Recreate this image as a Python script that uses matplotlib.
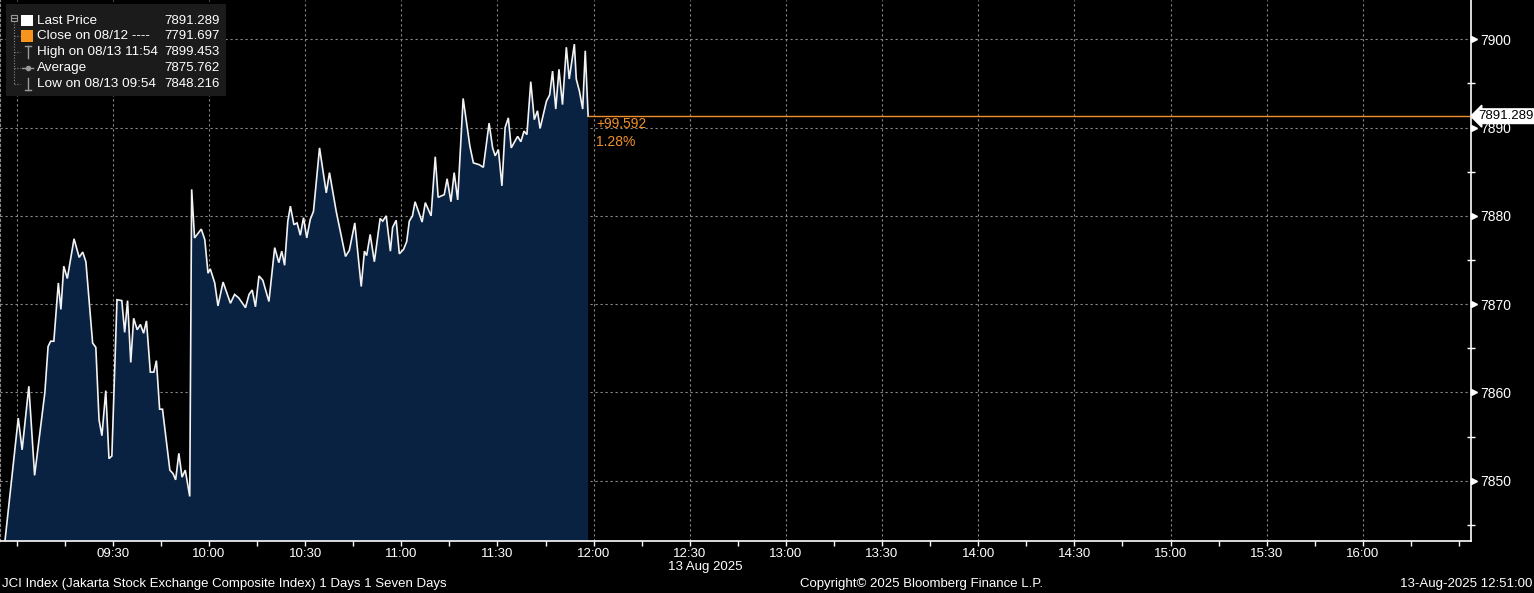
import matplotlib
matplotlib.use("Agg")
import matplotlib.pyplot as plt
import matplotlib.transforms as mtransforms
from matplotlib.patches import Rectangle
from matplotlib.lines import Line2D
import numpy as np

# ---------------- data ----------------
prev_close = 7791.697
prev_close_time = -19.0           # minutes relative to 09:00 (prior print, off chart)
# minutes after 09:00
times = [0.5, 1.7, 3.8, 5.6, 8.8, 9.8, 10.6, 11.6, 13.0, 13.8, 14.7, 15.8, 17.9, 19.5,
         20.6, 21.6, 23.7, 24.7, 25.7, 26.6, 27.8, 28.8, 29.7, 31.3, 32.8, 33.7, 34.6,
         35.6, 36.5, 37.6, 38.6, 39.6, 40.5, 41.7, 42.8, 43.6, 44.6, 45.5, 47.8, 48.8,
         49.6, 50.6, 51.6, 52.6, 54.0, 54.6, 55.5, 57.6, 58.7, 59.7, 60.4, 61.8, 62.8,
         64.4, 66.7, 68.0, 69.3, 71.4, 72.5, 73.5, 74.5, 75.6, 76.8, 78.7, 80.5, 81.8,
         82.7, 83.6, 84.6, 85.4, 86.5, 87.5, 88.5, 89.5, 90.5, 91.6, 92.6, 94.5, 96.6,
         97.6, 99.7, 102.6, 103.8, 105.5, 107.5, 108.5, 109.2, 110.3, 111.6, 113.4,
         114.2, 115.3, 116.6, 117.3, 118.4, 119.4, 120.7, 121.7, 122.5, 123.5, 124.3,
         126.5, 127.5, 129.3, 130.6, 131.5, 133.4, 134.3, 135.5, 136.5, 137.6, 139.3,
         141.4, 142.5, 144.3, 145.6, 147.4, 148.5, 149.3, 150.3, 151.4, 152.4, 153.4,
         154.3, 156.3, 157.3, 158.3, 159.2, 160.4, 161.5, 162.5, 163.3, 165.3, 166.3,
         167.2, 168.2, 169.2, 170.3, 171.5, 172.4, 174.0, 174.6, 175.6, 176.6, 177.4,
         178.3]
prices = [7857.1, 7853.5, 7860.7, 7850.6, 7860.0, 7865.2, 7865.8, 7865.8, 7872.4, 7869.4,
          7874.3, 7872.9, 7877.4, 7875.3, 7875.9, 7874.8, 7865.6, 7865.1, 7856.9, 7855.1,
          7860.2, 7852.5, 7852.8, 7870.5, 7870.4, 7866.8, 7870.4, 7863.4, 7868.4, 7867.1,
          7867.7, 7866.7, 7868.1, 7862.3, 7862.3, 7863.6, 7858.1, 7858.1, 7851.2, 7850.8,
          7850.1, 7853.1, 7850.4, 7851.2, 7848.216, 7883.0, 7877.5, 7878.5, 7877.3, 7873.5,
          7874.0, 7872.4, 7869.8, 7872.5, 7870.1, 7871.1, 7870.7, 7869.6, 7871.1, 7871.6,
          7869.7, 7873.2, 7872.7, 7870.3, 7876.4, 7874.7, 7876.0, 7874.4, 7879.4, 7881.1,
          7879.0, 7879.2, 7877.8, 7879.8, 7877.5, 7879.6, 7880.5, 7887.7, 7882.6, 7884.9,
          7880.5, 7875.4, 7876.1, 7879.2, 7872.0, 7876.0, 7875.5, 7877.9, 7874.8, 7879.7,
          7879.4, 7880.0, 7876.0, 7878.7, 7879.5, 7875.7, 7876.2, 7877.1, 7879.4, 7880.0,
          7881.6, 7879.3, 7881.5, 7880.0, 7886.7, 7882.1, 7882.4, 7884.2, 7881.6, 7884.9,
          7881.8, 7893.3, 7887.9, 7886.0, 7885.8, 7885.5, 7890.5, 7887.7, 7886.8, 7887.5,
          7883.4, 7890.0, 7891.1, 7887.7, 7889.0, 7888.4, 7889.6, 7889.2, 7895.2, 7890.9,
          7891.9, 7889.9, 7893.0, 7893.7, 7896.4, 7892.1, 7896.6, 7892.6, 7899.1, 7895.5,
          7899.453, 7895.5, 7894.1, 7892.1, 7898.7, 7891.289]

last_price = 7891.289
legend_labels = ["Last Price", "Close on 08/12 ---- ", "High on 08/13 11:54",
                 "Average", "Low on 08/13 09:54"]
legend_values = ["7891.289", "7791.697", "7899.453", "7875.762", "7848.216"]

grid_minutes = list(range(0, 421, 30))
tick_minutes = list(range(30, 421, 30))
tick_labels = ["09:30", "10:00", "10:30", "11:00", "11:30", "12:00", "12:30", "13:00",
               "13:30", "14:00", "14:30", "15:00", "15:30", "16:00"]
y_ticks = [7850, 7860, 7870, 7880, 7890, 7900]

title_left = "JCI Index (Jakarta Stock Exchange Composite Index) 1 Days 1 Seven Days"
title_mid = "Copyright\u00a9 2025 Bloomberg Finance L.P."
title_right = "13-Aug-2025 12:51:00"
date_label = "13 Aug 2025"

# ---------------- style ----------------
W, H = 1534, 593
BG = "black"
FILL = "#0a2242"
ORANGE = "#f0902a"
GRID = "#8a8a8a"
FONT = ["Liberation Sans", "DejaVu Sans"]

plt.rcParams["font.family"] = FONT

fig = plt.figure(figsize=(W / 100, H / 100), dpi=100, facecolor=BG)
ax_right_px, ax_bottom_px = 1470.5, 541
ax = fig.add_axes([0, (H - ax_bottom_px) / H, ax_right_px / W, ax_bottom_px / H])
ax.set_facecolor(BG)

xmin, xmax = -5.2, 453.6
ymin, ymax = 7843.17, 7904.45
ax.set_xlim(xmin, xmax)
ax.set_ylim(ymin, ymax)

t_all = [prev_close_time] + times
p_all = [prev_close] + prices

# grid
for g in grid_minutes:
    ax.axvline(g, color=GRID, lw=0.8, ls=(0, (2, 2.5)), zorder=0.5)
for yt in y_ticks:
    ax.axhline(yt, color=GRID, lw=0.8, ls=(0, (2, 2.5)), zorder=0.5)

ax.fill_between(t_all, p_all, ymin, color=FILL, zorder=1, lw=0)
ax.plot(t_all, p_all, color="#f2f2f2", lw=1.2, zorder=3, solid_joinstyle="miter")

# last price orange line
ax.hlines(last_price, times[-1], xmax, color=ORANGE, lw=1.0, zorder=3)
chg = last_price - prev_close
pct = chg / prev_close * 100
ax.annotate(f"+{chg:.3f}\n{pct:.2f}%", xy=(times[-1], last_price),
            xytext=(8, -1), textcoords="offset pixels", color=ORANGE,
            fontsize=10, va="top", ha="left", linespacing=1.35, zorder=4)

# spines
ax.spines["top"].set_visible(False)
ax.spines["left"].set_color(GRID)
ax.spines["left"].set_linestyle((0, (2, 2.5)))
ax.spines["left"].set_linewidth(0.8)
ax.spines["right"].set_color("white")
ax.spines["right"].set_linewidth(1.2)
ax.spines["bottom"].set_color("white")
ax.spines["bottom"].set_linewidth(1.2)

# x ticks
ax.set_xticks(tick_minutes)
ax.set_xticklabels(tick_labels)
ax.set_xticks(np.arange(0, 451, 15), minor=True)
ax.tick_params(axis="x", which="both", direction="out", length=3.5, width=1,
               color="white", labelcolor="white", labelsize=9.5, pad=1.5)

# y ticks on right
ax.yaxis.tick_right()
ax.set_yticks(y_ticks)
ax.set_yticklabels([str(v) for v in y_ticks])
ax.set_yticks(np.arange(7845, 7905, 5), minor=True)
ax.tick_params(axis="y", which="major", length=0, pad=7, labelcolor="white",
               labelsize=10)
ax.tick_params(axis="y", which="minor", direction="inout", length=6, width=1,
               color="white")
ax.tick_params(axis="y", which="both", left=False)

trans = mtransforms.blended_transform_factory(ax.transAxes, ax.transData)
ax.plot([1.0025] * len(y_ticks), y_ticks, ls="none", marker=">", ms=5,
        color="white", transform=trans, clip_on=False, zorder=5)

# last price box on the right axis
ax.annotate(f"{last_price:.3f}", xy=(1.0, last_price), xycoords=trans,
            xytext=(8, 0), textcoords="offset pixels", ha="left", va="center",
            fontsize=9.5, color="black", zorder=6, annotation_clip=False,
            bbox=dict(boxstyle="larrow,pad=0.1", fc="white", ec="white"))

# date label
fig.text(705 / W, 1 - 567 / H, date_label, color="white", fontsize=9.5,
         ha="center", va="center")

# footer
fig.text(2 / W, 1 - 584 / H, title_left, color="white", fontsize=9.5,
         ha="left", va="center")
fig.text(922 / W, 1 - 584 / H, title_mid, color="white", fontsize=9.5,
         ha="center", va="center")
fig.text(1532 / W, 1 - 584 / H, title_right, color="white", fontsize=9.5,
         ha="right", va="center")

# ---------------- legend box ----------------
def fx(px):
    return px / W

def fy(py):
    return 1 - py / H

fig.patches.append(Rectangle((fx(6), fy(96)), fx(226) - fx(6), fy(4) - fy(96),
                             transform=fig.transFigure, fc="#1b1b1b", ec="none",
                             zorder=10))
rows = [20.5, 36, 52, 68, 84]
fig.add_artist(Line2D([fx(14), fx(14)], [fy(21), fy(84)], color="#8a8a8a",
                      lw=0.8, ls=(0, (1, 1.5)), zorder=11))
for r in rows[1:]:
    fig.add_artist(Line2D([fx(14), fx(20)], [fy(r), fy(r)], color="#8a8a8a",
                          lw=0.8, ls=(0, (1, 1.5)), zorder=11))
fig.patches.append(Rectangle((fx(11), fy(20.5)), fx(5.5) - fx(0), fy(15) - fy(20.5),
                             transform=fig.transFigure, fc="#1b1b1b", ec="#9a9a9a",
                             lw=0.8, zorder=12))
fig.add_artist(Line2D([fx(12), fx(15.5)], [fy(17.8), fy(17.8)], color="#9a9a9a",
                      lw=0.8, zorder=13))
fig.patches.append(Rectangle((fx(21), fy(rows[0] + 5.5)), fx(11.5) - fx(0),
                             fy(0) - fy(11.5), transform=fig.transFigure,
                             fc="white", ec="none", zorder=12))
fig.patches.append(Rectangle((fx(21), fy(rows[1] + 5.5)), fx(11.5) - fx(0),
                             fy(0) - fy(11.5), transform=fig.transFigure,
                             fc="#f7941d", ec="none", zorder=12))
ic = "#9a9a9a"
fig.add_artist(Line2D([fx(25), fx(31)], [fy(rows[2] - 6), fy(rows[2] - 6)], color=ic, lw=1, zorder=12))
fig.add_artist(Line2D([fx(28), fx(28)], [fy(rows[2] - 6), fy(rows[2] + 6)], color=ic, lw=1, zorder=12))
fig.add_artist(Line2D([fx(22), fx(33)], [fy(rows[3]), fy(rows[3])], color=ic, lw=1, zorder=12))
fig.add_artist(Line2D([fx(27.5)], [fy(rows[3])], color=ic, marker="o", ms=3, zorder=13))
fig.add_artist(Line2D([fx(25), fx(31)], [fy(rows[4] + 6), fy(rows[4] + 6)], color=ic, lw=1, zorder=12))
fig.add_artist(Line2D([fx(28), fx(28)], [fy(rows[4] - 6), fy(rows[4] + 6)], color=ic, lw=1, zorder=12))

for r, lab, val in zip(rows, legend_labels, legend_values):
    fig.text(fx(37), fy(r), lab, color="white", fontsize=9.7, ha="left",
             va="center", zorder=14)
    fig.text(fx(220), fy(r), val, color="white", fontsize=9.5, ha="right",
             va="center", zorder=14)

fig.savefig("out.png", dpi=100, facecolor=BG)
